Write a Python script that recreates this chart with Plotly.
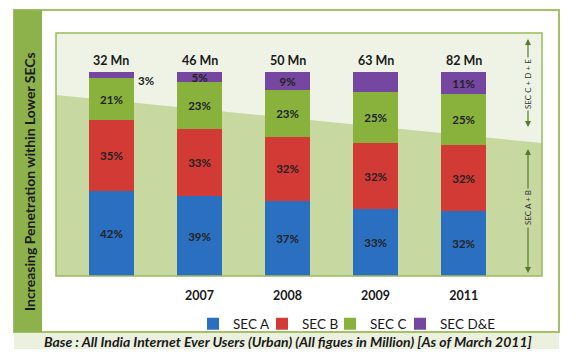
import plotly.graph_objects as go

# ---- data ----
categories = ["", "2007", "2008", "2009", "2011"]
totals_mn = [32, 46, 50, 63, 82]
sec_a = [42, 39, 37, 33, 32]
sec_b = [35, 33, 32, 32, 32]
sec_c = [21, 23, 23, 25, 25]
sec_de = [3, 5, 9, 10, 11]
sec_de_labels = ["", "5%", "9%", "", "11%"]

series_names = ["SEC A", "SEC B", "SEC C", "SEC D&E"]
series_colors = ["#2b6fc1", "#d23a35", "#88b23c", "#7647a0"]

FONT = "Lato"
OFF = 8                      # page body margin
W, H = 575 - 2 * OFF, 357 - 2 * OFF
L, R, T, B = 56, 542, 33, 276  # plot area in page pixels


def px(x):
    return (x - L) / (R - L)


def py(y):
    return (B - y) / (B - T)


xpos = list(range(len(categories)))
fig = go.Figure()

legend_ids = ["legend", "legend2", "legend3", "legend4"]
legend_text_x = [229, 298, 366, 436]

vals_list = [sec_a, sec_b, sec_c, sec_de]
labels_list = [[f"{v}%" for v in sec_a], [f"{v}%" for v in sec_b],
               [f"{v}%" for v in sec_c], sec_de_labels]
for name, vals, col, labs, lid in zip(series_names, vals_list, series_colors, labels_list, legend_ids):
    fig.add_trace(go.Bar(
        x=xpos, y=vals, name=name, marker=dict(color=col, line=dict(width=0)),
        text=labs, textposition="inside", insidetextanchor="middle",
        constraintext="none", cliponaxis=False, legend=lid,
        textfont=dict(family=FONT, size=11.5, color="#222222", weight="bold"),
        width=0.51, hoverinfo="skip",
    ))

shapes = []
# outer frame
shapes.append(dict(type="rect", xref="paper", yref="paper", x0=px(14), x1=px(559), y0=py(10), y1=py(332),
                   line=dict(color="#a3c268", width=2), fillcolor="white", layer="below"))
# left strip
shapes.append(dict(type="rect", xref="paper", yref="paper", x0=px(14), x1=px(42), y0=py(10), y1=py(332),
                   line=dict(width=0), fillcolor="#8db24b", layer="below"))
# base band
shapes.append(dict(type="rect", xref="paper", yref="paper", x0=px(14), x1=px(559), y0=py(333), y1=py(349),
                   line=dict(width=0), fillcolor="#ecf1df", layer="below"))
# inner background upper
shapes.append(dict(type="rect", xref="paper", yref="paper", x0=0, x1=1, y0=0, y1=1,
                   line=dict(width=0), fillcolor="#eef3e5", layer="below"))
# inner background lower (sloped)
shapes.append(dict(type="path", xref="paper", yref="paper",
                   path=f"M0,0 L0,{py(95)} L1,{py(143)} L1,0 Z",
                   line=dict(width=0), fillcolor="#c7d9a1", layer="below"))
# inner border
shapes.append(dict(type="rect", xref="paper", yref="paper", x0=0, x1=1, y0=0, y1=1,
                   line=dict(color="#9bbb59", width=1.5), layer="above"))

annotations = []
# totals above bars
for i, t in enumerate(totals_mn):
    annotations.append(dict(x=xpos[i], y=100, xref="x", yref="y", text=f"<b>{t} Mn</b>",
                            showarrow=False, xanchor="center", yanchor="bottom", yshift=2,
                            font=dict(family=FONT, size=12.5, color="#1a1a1a")))
# 3% label outside first bar
annotations.append(dict(x=xpos[0] + 0.255, y=100 - sec_de[0] / 2 - 2.5, xref="x", yref="y",
                        text=f"<b>{sec_de[0]}%</b>", showarrow=False, xanchor="left", yanchor="middle",
                        xshift=2, font=dict(family=FONT, size=11.5, color="#222222")))
# left vertical title
annotations.append(dict(x=px(29), y=py(182), xref="paper", yref="paper",
                        text="<b>Increasing Penetration within Lower SECs</b>", textangle=-90,
                        xanchor="center", yanchor="middle",
                        showarrow=False, font=dict(family=FONT, size=14, color="#1a1a1a")))
# base text
annotations.append(dict(x=px(288), y=py(341), xref="paper", yref="paper",
                        text="<b><i>Base : All India Internet Ever Users (Urban) (All figues in Million) [As of March 2011]</i></b>",
                        xanchor="center", yanchor="middle",
                        showarrow=False, font=dict(family=FONT, size=14, color="#1a1a1a")))
# right-side group markers
ax_x = px(528)
arrow_col = "#557a2c"
for label, top, bot, tc, half in [("SEC C + D + E", 39, 127, 84, 25), ("SEC A + B", 149, 273, 208, 18)]:
    annotations.append(dict(x=ax_x, y=py(tc), xref="paper", yref="paper", text=label, textangle=-90,
                            xanchor="center", yanchor="middle",
                            showarrow=False, font=dict(family=FONT, size=8, color="#333333")))
    annotations.append(dict(x=ax_x, y=py(top), xref="paper", yref="paper", text="", showarrow=True,
                            ax=0, ay=(tc - half) - top, arrowhead=2, arrowsize=1, arrowwidth=1.2,
                            arrowcolor=arrow_col))
    annotations.append(dict(x=ax_x, y=py(bot), xref="paper", yref="paper", text="", showarrow=True,
                            ax=0, ay=(tc + half) - bot, arrowhead=2, arrowsize=1, arrowwidth=1.2,
                            arrowcolor=arrow_col))

legend_layout = {}
for lid, tx in zip(legend_ids, legend_text_x):
    legend_layout[lid] = dict(orientation="h", x=px(tx - 36), y=py(324), xanchor="left", yanchor="middle",
                              font=dict(family=FONT, size=13.5, color="#1a1a1a"),
                              bgcolor="rgba(0,0,0,0)", itemwidth=30)

fig.update_layout(
    width=W, height=H, autosize=False,
    margin=dict(l=L - OFF, r=(575 - OFF) - R, t=T - OFF, b=(357 - OFF) - B, pad=0, autoexpand=False),
    paper_bgcolor="white", plot_bgcolor="rgba(0,0,0,0)",
    barmode="stack", barnorm="percent", bargap=0.42,
    shapes=shapes, annotations=annotations,
    showlegend=True,
    xaxis=dict(range=[-0.63, 4.89], tickmode="array", tickvals=xpos, ticktext=categories,
               showgrid=False, zeroline=False, showline=False, ticks="", automargin=False,
               tickfont=dict(family=FONT, size=12.5, color="#1a1a1a", weight="bold"),
               ticklabelstandoff=10, fixedrange=True),
    yaxis=dict(range=[0, 119.1], showgrid=False, zeroline=False, showline=False, automargin=False,
               showticklabels=False, ticks="", fixedrange=True),
    font=dict(family=FONT),
    **legend_layout,
)

fig.write_html("out.html")
